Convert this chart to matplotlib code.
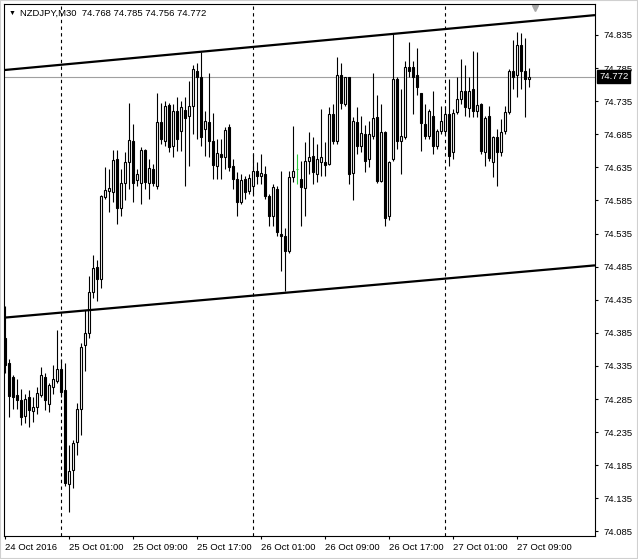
import numpy as np
import pandas as pd
import matplotlib
matplotlib.use('Agg')
import matplotlib.pyplot as plt
import matplotlib.transforms as mtransforms
from matplotlib.patches import Rectangle

plt.rcParams['font.family'] = ['Liberation Sans', 'DejaVu Sans']

symbol = 'NZDJPY,M30'
start = '2016-10-24 17:00'

# OHLC, 30 min bars
opens = [74.378, 74.340, 74.319, 74.291, 74.283, 74.259, 74.288, 74.267, 74.273, 74.291,
         74.319, 74.277, 74.304, 74.313, 74.330, 74.298, 74.156, 74.178, 74.220, 74.270,
         74.366, 74.385, 74.447, 74.484, 74.466, 74.591, 74.600, 74.598, 74.648, 74.573,
         74.612, 74.643, 74.675, 74.616, 74.612, 74.661, 74.612, 74.633, 74.607, 74.703,
         74.675, 74.729, 74.667, 74.720, 74.690, 74.721, 74.712, 74.727, 74.781, 74.772,
         74.693, 74.703, 74.675, 74.637, 74.655, 74.651, 74.696, 74.637, 74.618, 74.582,
         74.618, 74.600, 74.607, 74.630, 74.622, 74.625, 74.592, 74.562, 74.603, 74.534,
         74.532, 74.508, 74.621, 74.633, 74.618, 74.604, 74.645, 74.652, 74.625, 74.643,
         74.643, 74.640, 74.715, 74.675, 74.774, 74.730, 74.771, 74.627, 74.703, 74.667,
         74.685, 74.648, 74.682, 74.711, 74.615, 74.688, 74.561, 74.648, 74.768, 74.675,
         74.681, 74.786, 74.786, 74.775, 74.747, 74.700, 74.682, 74.712, 74.667, 74.690,
         74.690, 74.715, 74.658, 74.718, 74.739, 74.750, 74.724, 74.753, 74.720, 74.730,
         74.658, 74.712, 74.643, 74.681, 74.658, 74.690, 74.718, 74.780, 74.774, 74.820,
         74.780, 74.768]
highs = [74.426, 74.345, 74.322, 74.315, 74.300, 74.292, 74.298, 74.288, 74.303, 74.333,
         74.325, 74.309, 74.336, 74.390, 74.345, 74.340, 74.216, 74.223, 74.279, 74.369,
         74.420, 74.471, 74.502, 74.495, 74.594, 74.636, 74.633, 74.661, 74.661, 74.633,
         74.658, 74.733, 74.700, 74.633, 74.666, 74.663, 74.648, 74.640, 74.748, 74.733,
         74.735, 74.733, 74.730, 74.742, 74.735, 74.742, 74.765, 74.790, 74.793, 74.810,
         74.720, 74.778, 74.717, 74.678, 74.678, 74.696, 74.700, 74.648, 74.628, 74.625,
         74.622, 74.625, 74.655, 74.643, 74.655, 74.637, 74.595, 74.610, 74.607, 74.630,
         74.543, 74.630, 74.697, 74.655, 74.645, 74.673, 74.688, 74.681, 74.670, 74.723,
         74.673, 74.726, 74.730, 74.801, 74.793, 74.772, 74.772, 74.711, 74.726, 74.712,
         74.699, 74.705, 74.778, 74.745, 74.730, 74.690, 74.645, 74.837, 74.771, 74.753,
         74.795, 74.825, 74.795, 74.816, 74.748, 74.730, 74.723, 74.750, 74.693, 74.727,
         74.727, 74.768, 74.723, 74.771, 74.798, 74.790, 74.771, 74.811, 74.810, 74.733,
         74.712, 74.727, 74.682, 74.693, 74.708, 74.727, 74.783, 74.828, 74.840, 74.838,
         74.831, 74.785]
lows = [74.325, 74.258, 74.270, 74.270, 74.246, 74.249, 74.243, 74.250, 74.262, 74.288,
        74.268, 74.265, 74.292, 74.310, 74.288, 74.153, 74.115, 74.150, 74.201, 74.231,
        74.328, 74.378, 74.438, 74.433, 74.453, 74.588, 74.567, 74.583, 74.550, 74.562,
        74.585, 74.603, 74.583, 74.607, 74.580, 74.603, 74.588, 74.607, 74.603, 74.670,
        74.667, 74.658, 74.651, 74.660, 74.660, 74.607, 74.637, 74.685, 74.678, 74.667,
        74.652, 74.651, 74.618, 74.618, 74.618, 74.633, 74.630, 74.603, 74.562, 74.580,
        74.588, 74.595, 74.595, 74.610, 74.610, 74.588, 74.547, 74.547, 74.531, 74.478,
        74.448, 74.505, 74.613, 74.610, 74.547, 74.562, 74.625, 74.610, 74.613, 74.622,
        74.622, 74.638, 74.670, 74.670, 74.723, 74.727, 74.610, 74.585, 74.655, 74.658,
        74.628, 74.636, 74.678, 74.612, 74.613, 74.546, 74.555, 74.645, 74.663, 74.625,
        74.678, 74.772, 74.715, 74.745, 74.660, 74.678, 74.678, 74.655, 74.663, 74.685,
        74.685, 74.637, 74.648, 74.715, 74.730, 74.712, 74.711, 74.711, 74.711, 74.655,
        74.637, 74.645, 74.621, 74.607, 74.652, 74.685, 74.715, 74.753, 74.741, 74.753,
        74.711, 74.756]
closes = [74.336, 74.289, 74.288, 74.283, 74.258, 74.285, 74.268, 74.273, 74.294, 74.321,
          74.283, 74.306, 74.315, 74.330, 74.295, 74.159, 74.177, 74.219, 74.270, 74.364,
          74.385, 74.447, 74.483, 74.466, 74.592, 74.601, 74.604, 74.646, 74.573, 74.612,
          74.643, 74.676, 74.612, 74.625, 74.661, 74.613, 74.634, 74.612, 74.703, 74.678,
          74.727, 74.666, 74.720, 74.678, 74.726, 74.709, 74.727, 74.783, 74.772, 74.681,
          74.705, 74.675, 74.639, 74.657, 74.651, 74.691, 74.636, 74.618, 74.582, 74.616,
          74.598, 74.619, 74.630, 74.622, 74.627, 74.592, 74.562, 74.606, 74.538, 74.531,
          74.508, 74.621, 74.630, 74.633, 74.606, 74.645, 74.651, 74.628, 74.648, 74.651,
          74.639, 74.715, 74.675, 74.774, 74.733, 74.771, 74.625, 74.705, 74.667, 74.687,
          74.645, 74.685, 74.709, 74.615, 74.688, 74.559, 74.643, 74.769, 74.675, 74.682,
          74.786, 74.781, 74.772, 74.756, 74.702, 74.682, 74.720, 74.667, 74.690, 74.705,
          74.715, 74.652, 74.717, 74.739, 74.751, 74.726, 74.750, 74.720, 74.729, 74.660,
          74.709, 74.649, 74.681, 74.658, 74.688, 74.718, 74.781, 74.772, 74.820, 74.780,
          74.768, 74.772]

# trend lines, price at left and right edge of the chart
upper_trend = [74.782, 74.865]
lower_trend = [74.408, 74.487]

x_labels = ['24 Oct 2016', '25 Oct 01:00', '25 Oct 09:00', '25 Oct 17:00', '26 Oct 01:00',
            '26 Oct 09:00', '26 Oct 17:00', '27 Oct 01:00', '27 Oct 09:00']
y_ticks = [74.085, 74.135, 74.185, 74.235, 74.285, 74.335, 74.385, 74.435,
           74.485, 74.535, 74.585, 74.635, 74.685, 74.735, 74.785, 74.835]

W, H = 638, 559
n = len(opens)
x = np.arange(n)
times = pd.date_range(start, periods=n, freq='30min')
o = np.array(opens); c = np.array(closes)

fig = plt.figure(figsize=(W / 100, H / 100), dpi=100)
ax = fig.add_axes([4 / W, 23 / H, 591 / W, 532 / H])
xlim = (-0.25, 147.5)
ax.set_xlim(xlim)
ax.set_ylim(74.0782, 74.8818)

# day separators
midnight = x[(times.hour == 0) & (times.minute == 0)]
for m in midnight:
    ax.axvline(m, color='black', lw=0.8, ls=(0, (3, 3)), zorder=1)

# last price line
ax.axhline(closes[-1], color='#a0a0a0', lw=0.8, zorder=1)

doji = c == o
wick_col = np.where(doji, '#2ecc40', 'black')
ax.vlines(x, lows, highs, colors=wick_col, lw=0.8, zorder=2)
face = np.where(c > o, 'white', 'black')
face = np.where(doji, 'none', face)
ax.bar(x, np.abs(c - o), width=0.5, bottom=np.minimum(o, c), color=face,
       edgecolor=wick_col, linewidth=0.8, zorder=3)

ax.plot(xlim, upper_trend, color='black', lw=1.6, zorder=4, solid_capstyle='butt')
ax.plot(xlim, lower_trend, color='black', lw=1.6, zorder=4, solid_capstyle='butt')

ax.yaxis.tick_right()
ax.set_yticks(y_ticks)
ax.set_yticklabels([f'{v:.3f}' for v in y_ticks])
ax.set_xticks(np.arange(0, n, 16))
ax.set_xticklabels(x_labels, ha='left')
ax.tick_params(axis='both', direction='out', length=2.2, width=0.8, labelsize=6.8, colors='black')
ax.tick_params(axis='y', pad=4)
ax.tick_params(axis='x', pad=3)
for s in ax.spines.values():
    s.set_linewidth(0.8)

# last price box
trans = mtransforms.offset_copy(mtransforms.blended_transform_factory(ax.transAxes, ax.transData),
                                fig=fig, x=4, y=0, units='dots')
ax.text(1.0, closes[-1], f'{closes[-1]:.3f}', transform=trans, ha='left', va='center',
        color='white', fontsize=6.8, zorder=10, clip_on=False,
        bbox=dict(boxstyle='square,pad=0.2', fc='black', ec='black'))

# chart shift marker
tri = mtransforms.offset_copy(mtransforms.blended_transform_factory(ax.transData, ax.transAxes),
                              fig=fig, x=0, y=-4, units='dots')
ax.plot([n + 0.5], [1.0], marker='v', color='#a8a8a8', ms=5, transform=tri, clip_on=False)

# header
fig.text(12 / W, 1 - 13 / H, '\u25bc', fontsize=5, ha='center', va='center')
fig.text(20 / W, 1 - 13 / H,
         f'{symbol}  {opens[-1]:.3f} {highs[-1]:.3f} {lows[-1]:.3f} {closes[-1]:.3f}',
         fontsize=6.8, ha='left', va='center')

fig.patches.append(Rectangle((0, 0), 1, 1, transform=fig.transFigure, fill=False,
                             ec='#d0d0d0', lw=1.5))

fig.savefig('out.png', dpi=100)
